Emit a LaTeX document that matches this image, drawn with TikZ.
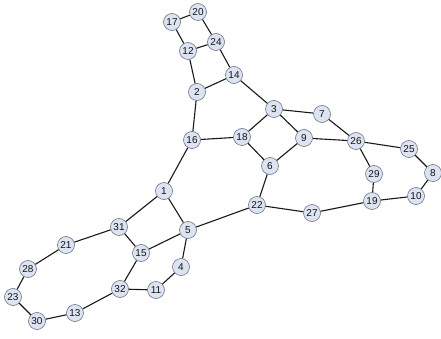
\documentclass[tikz,border=0pt]{standalone}
\usepackage{fontspec}
\setmainfont{Liberation Sans}
\definecolor{nodefill}{HTML}{DCE3F2}
\definecolor{nodeline}{HTML}{6E7380}
\definecolor{txt}{HTML}{141414}
\begin{document}
\begin{tikzpicture}[x=1pt,y=-1pt,
  vtx/.style={circle,draw=nodeline,fill=nodefill,line width=0.6pt,minimum size=17pt,inner sep=0pt,font=\fontsize{10}{11}\selectfont,text=txt},
  edge/.style={draw=black!90,line width=1.1pt}]
\useasboundingbox (0,0) rectangle (441,339);
\foreach \n/\x/\y in {20/198/12,17/172/22,24/216/42,12/188/51,14/234/75,2/197/92,3/274/109,16/192/140,18/242/137,
  7/322/114,9/304/138,26/356/141,25/409/149,6/270/166,29/374/174,8/433/173,22/257/205,19/372/201,10/416/196,27/312/213,
  1/164/191,31/119/227,5/188/230,21/66/245,15/141/253,28/28/269,4/181/267,32/120/289,11/156/290,23/13/297,13/75/313,30/37/321}
  {\node[vtx] (n\n) at (\x,\y) {\n};}
\foreach \a/\b in {20/17,20/24,17/12,12/24,24/14,12/2,2/14,14/3,2/16,16/18,18/3,3/7,3/9,18/6,9/6,9/26,7/26,26/25,26/29,25/8,8/10,10/19,29/19,19/27,27/22,22/6,22/5,16/1,1/31,1/5,31/21,31/15,15/5,5/4,4/11,11/32,32/15,21/28,28/23,23/30,30/13,13/32}
  {\draw[edge] (n\a) -- (n\b);}
\end{tikzpicture}
\end{document}
